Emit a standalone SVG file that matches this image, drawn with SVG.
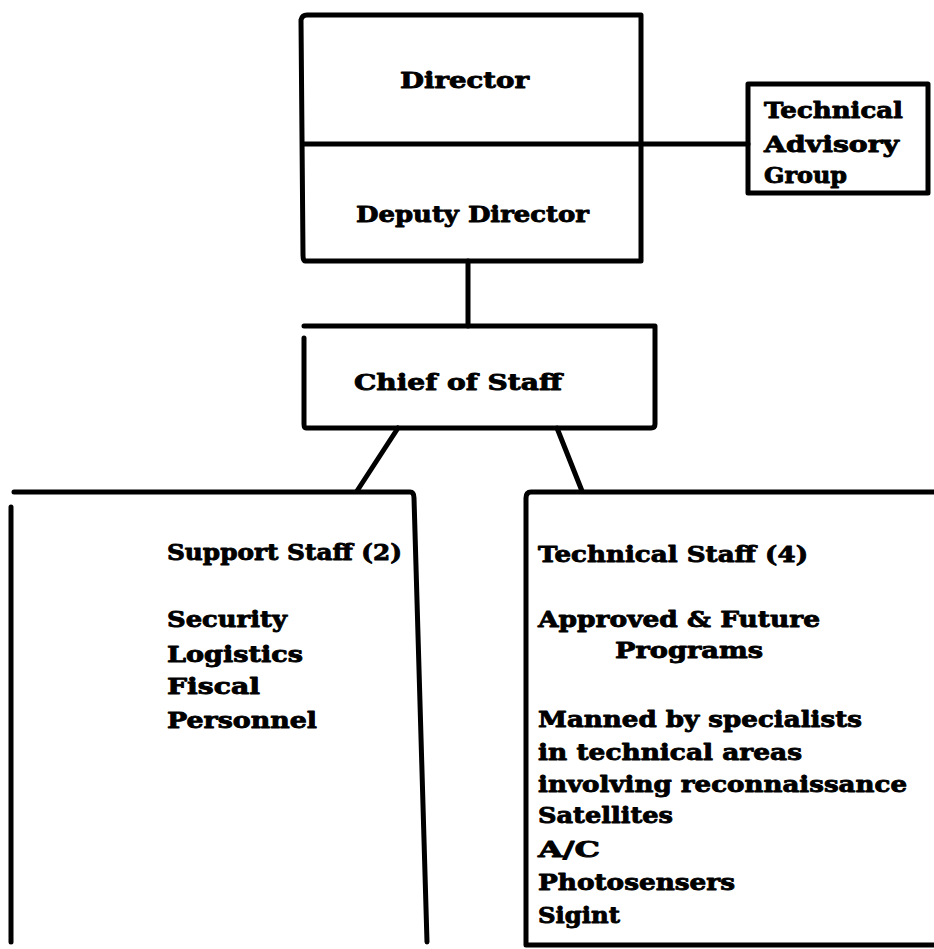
<svg xmlns="http://www.w3.org/2000/svg" width="934" height="949" viewBox="0 0 934 949">
<style>
.ln{fill:none;stroke:#000;stroke-width:5;stroke-linecap:round;stroke-linejoin:round}
.t{font-family:"DejaVu Serif","Liberation Serif",serif;font-weight:bold;font-size:23px;fill:#000;stroke:#000;stroke-width:0.9;stroke-linejoin:round}
</style>
<rect width="934" height="949" fill="#fff"/>
<g id="connectors">
<path class="ln" d="M641,144 H748"/>
<path class="ln" d="M468,261 V326"/>
<path class="ln" d="M398,428 L357,491"/>
<path class="ln" d="M557,428 L582,491"/>
</g>
<g id="director">
<path class="ln" d="M301,20 Q302,15 307,15 H641 V261 H305 Q303,261 303,255 Z"/>
<path class="ln" d="M303,144 H641"/>
<text class="t" x="400" y="88" textLength="129" lengthAdjust="spacingAndGlyphs">Director</text>
<text class="t" x="356" y="222" textLength="233" lengthAdjust="spacingAndGlyphs">Deputy Director</text>
</g>
<g id="technical-advisory-group">
<path class="ln" d="M748,84 H928 V193 H748 Z"/>
<text class="t" x="764" y="118" textLength="139" lengthAdjust="spacingAndGlyphs">Technical</text>
<text class="t" x="764" y="152" textLength="135" lengthAdjust="spacingAndGlyphs">Advisory</text>
<text class="t" x="764" y="183" textLength="83" lengthAdjust="spacingAndGlyphs">Group</text>
</g>
<g id="chief-of-staff">
<path class="ln" d="M304,326 H655 V424 Q655,428 651,428 H306 Q304,428 304,424 V338"/>
<text class="t" x="354" y="390" textLength="208" lengthAdjust="spacingAndGlyphs">Chief of Staff</text>
</g>
<g id="support-staff">
<path class="ln" d="M14,492 H410 Q414,492 414,498 L427,942"/>
<path class="ln" d="M11,507 V942"/>
<text class="t" x="167" y="560" textLength="235" lengthAdjust="spacingAndGlyphs">Support Staff (2)</text>
<text class="t" x="167" y="627" textLength="120" lengthAdjust="spacingAndGlyphs">Security</text>
<text class="t" x="167" y="662" textLength="136" lengthAdjust="spacingAndGlyphs">Logistics</text>
<text class="t" x="167" y="694" textLength="93" lengthAdjust="spacingAndGlyphs">Fiscal</text>
<text class="t" x="167" y="728" textLength="150" lengthAdjust="spacingAndGlyphs">Personnel</text>
</g>
<g id="technical-staff">
<path class="ln" d="M934,492 H531 Q526,492 526,498 V945 H934"/>
<text class="t" x="538" y="562" textLength="270" lengthAdjust="spacingAndGlyphs">Technical Staff (4)</text>
<text class="t" x="538" y="627" textLength="282" lengthAdjust="spacingAndGlyphs">Approved &amp; Future</text>
<text class="t" x="615" y="658" textLength="148" lengthAdjust="spacingAndGlyphs">Programs</text>
<text class="t" x="538" y="727" textLength="324" lengthAdjust="spacingAndGlyphs">Manned by specialists</text>
<text class="t" x="538" y="760" textLength="264" lengthAdjust="spacingAndGlyphs">in technical areas</text>
<text class="t" x="538" y="792" textLength="369" lengthAdjust="spacingAndGlyphs">involving reconnaissance</text>
<text class="t" x="538" y="823" textLength="135" lengthAdjust="spacingAndGlyphs">Satellites</text>
<text class="t" x="538" y="857" textLength="62" lengthAdjust="spacingAndGlyphs">A/C</text>
<text class="t" x="538" y="890" textLength="197" lengthAdjust="spacingAndGlyphs">Photosensers</text>
<text class="t" x="538" y="923" textLength="82" lengthAdjust="spacingAndGlyphs">Sigint</text>
</g>
</svg>
